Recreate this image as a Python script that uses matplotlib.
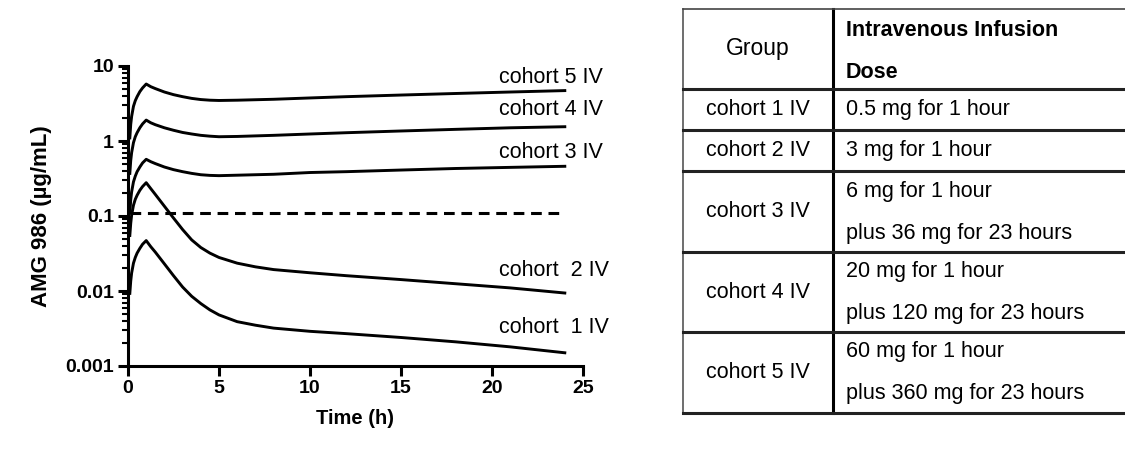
import matplotlib
matplotlib.use("Agg")
import matplotlib.pyplot as plt
from matplotlib.ticker import LogLocator, FixedFormatter, FixedLocator

plt.rcParams['font.family'] = ['Liberation Sans', 'DejaVu Sans']

# simulated concentration-time profiles (ug/mL)
time_h = [0.1, 0.15, 0.2, 0.3, 0.4, 0.5, 0.65, 0.8, 1,
          1.25, 1.5, 2, 2.5, 3, 3.5, 4, 4.5, 5, 6, 7, 8, 10, 12, 15, 18, 21, 24]
cohort5 = [1.1, 1.67, 2.13, 2.9, 3.45, 3.9, 4.55, 5.1, 5.75,
           5.3, 5.0, 4.5, 4.15, 3.9, 3.7, 3.57, 3.5, 3.47, 3.5, 3.55, 3.6,
           3.75, 3.9, 4.1, 4.3, 4.5, 4.7]
cohort4 = [0.37, 0.55, 0.7, 0.95, 1.14, 1.29, 1.5, 1.69, 1.9,
           1.75, 1.65, 1.5, 1.39, 1.3, 1.24, 1.19, 1.16, 1.14, 1.15, 1.17, 1.19,
           1.24, 1.29, 1.36, 1.43, 1.5, 1.55]
cohort3 = [0.11, 0.165, 0.21, 0.285, 0.34, 0.39, 0.45, 0.51, 0.57,
           0.53, 0.5, 0.45, 0.415, 0.39, 0.37, 0.355, 0.348, 0.345, 0.35, 0.355,
           0.36, 0.38, 0.39, 0.41, 0.43, 0.445, 0.46]
cohort2 = [0.055, 0.08, 0.103, 0.139, 0.167, 0.189, 0.22, 0.247, 0.278,
           0.232, 0.194, 0.135, 0.094, 0.066, 0.048, 0.038, 0.032, 0.028,
           0.0235, 0.021, 0.0193, 0.0175, 0.016, 0.0142, 0.0125, 0.011, 0.0094]
cohort1 = [0.0093, 0.0136, 0.0174, 0.0235, 0.028, 0.032, 0.037, 0.042, 0.047,
           0.039, 0.033, 0.023, 0.016, 0.0113, 0.0085, 0.0068, 0.0056, 0.0048,
           0.0039, 0.0035, 0.0032, 0.0029, 0.0027, 0.0024, 0.0021, 0.0018, 0.0015]
series = [cohort5, cohort4, cohort3, cohort2, cohort1]
curve_labels = ['cohort 5 IV', 'cohort 4 IV', 'cohort 3 IV', 'cohort  2 IV', 'cohort  1 IV']
label_y = [7.1, 2.6, 0.71, 0.019, 0.0033]

threshold = 0.11
threshold_t = [0.1, 24]

y_ticks = [0.001, 0.01, 0.1, 1, 10]
y_ticklabels = ['0.001', '0.01', '0.1', '1', '10']
x_ticks = [0, 5, 10, 15, 20, 25]

# table content
table_header = ['Group', 'Intravenous Infusion', 'Dose']
table_groups = ['cohort 1 IV', 'cohort 2 IV', 'cohort 3 IV', 'cohort 4 IV', 'cohort 5 IV']
table_doses = [
    ['0.5 mg for 1 hour'],
    ['3 mg for 1 hour'],
    ['6 mg for 1 hour', 'plus 36 mg for 23 hours'],
    ['20 mg for 1 hour', 'plus 120 mg for 23 hours'],
    ['60 mg for 1 hour', 'plus 360 mg for 23 hours'],
]

W, H = 1125, 453
fig = plt.figure(figsize=(W / 100, H / 100), dpi=100)

# ---- chart ----
ax = fig.add_axes([128 / W, 1 - 366 / H, (583 - 128) / W, (366 - 66) / H])
for vals in series:
    ax.plot(time_h, vals, color='black', lw=2.1, solid_joinstyle='round')
ax.plot(threshold_t, [threshold, threshold], color='black', lw=2.2,
        dashes=(3.5, 2.2))
for lab, yv in zip(curve_labels, label_y):
    ax.text(20.4, yv, lab, fontsize=15.5, va='center', ha='left', clip_on=False)

ax.set_yscale('log')
ax.set_xlim(0, 25)
ax.set_ylim(0.001, 10)
ax.yaxis.set_major_locator(FixedLocator(y_ticks))
ax.yaxis.set_major_formatter(FixedFormatter(y_ticklabels))
ax.yaxis.set_minor_locator(LogLocator(base=10, subs=range(2, 10)))
ax.yaxis.set_minor_formatter(plt.NullFormatter())
ax.set_xticks(x_ticks)
for s in ['top', 'right']:
    ax.spines[s].set_visible(False)
for s in ['left', 'bottom']:
    ax.spines[s].set_linewidth(2.2)
ax.tick_params(which='major', direction='out', length=7, width=2.2,
               labelsize=14, pad=3)
ax.tick_params(which='minor', direction='out', length=4, width=1.5)
for lbl in ax.get_xticklabels() + ax.get_yticklabels():
    lbl.set_fontweight('bold')
ax.set_xlabel('Time (h)', fontsize=14.5, fontweight='bold', labelpad=9)
ax.set_ylabel('AMG 986 (µg/mL)', fontsize=16, fontweight='bold', labelpad=10)

# ---- table ----
tx = fig.add_axes([0, 0, 1, 1])
tx.set_xlim(0, W)
tx.set_ylim(H, 0)
tx.axis('off')

left, mid, right = 683, 833, W
row_edges = [9, 89, 130, 171, 252, 332, 413]
tx.plot([left, left], [row_edges[0], row_edges[-1]], color='#555555', lw=1.2)
tx.plot([mid, mid], [row_edges[0], row_edges[-1]], color='black', lw=2.2)
for i, yy in enumerate(row_edges):
    tx.plot([left, right], [yy, yy], color='#444444' if i == 0 else '#222222',
            lw=1.2 if i == 0 else 2.2)

gx = (left + mid) / 2
dx = mid + 13
tx.text(gx, (row_edges[0] + row_edges[1]) / 2, table_header[0], fontsize=16.5,
        ha='center', va='center')
tx.text(dx, row_edges[0] + 22, table_header[1], fontsize=15.5,
        fontweight='bold', ha='left', va='center')
tx.text(dx, row_edges[1] - 17, table_header[2], fontsize=15.5,
        fontweight='bold', ha='left', va='center')

for i, (grp, dose) in enumerate(zip(table_groups, table_doses)):
    top, bot = row_edges[i + 1], row_edges[i + 2]
    cy = (top + bot) / 2
    tx.text(gx, cy, grp, fontsize=15.5, ha='center', va='center')
    if len(dose) == 1:
        tx.text(dx, cy, dose[0], fontsize=15.5, ha='left', va='center')
    else:
        tx.text(dx, top + 20, dose[0], fontsize=15.5, ha='left', va='center')
        tx.text(dx, bot - 19, dose[1], fontsize=15.5, ha='left', va='center')

fig.savefig('out.png', dpi=100)
